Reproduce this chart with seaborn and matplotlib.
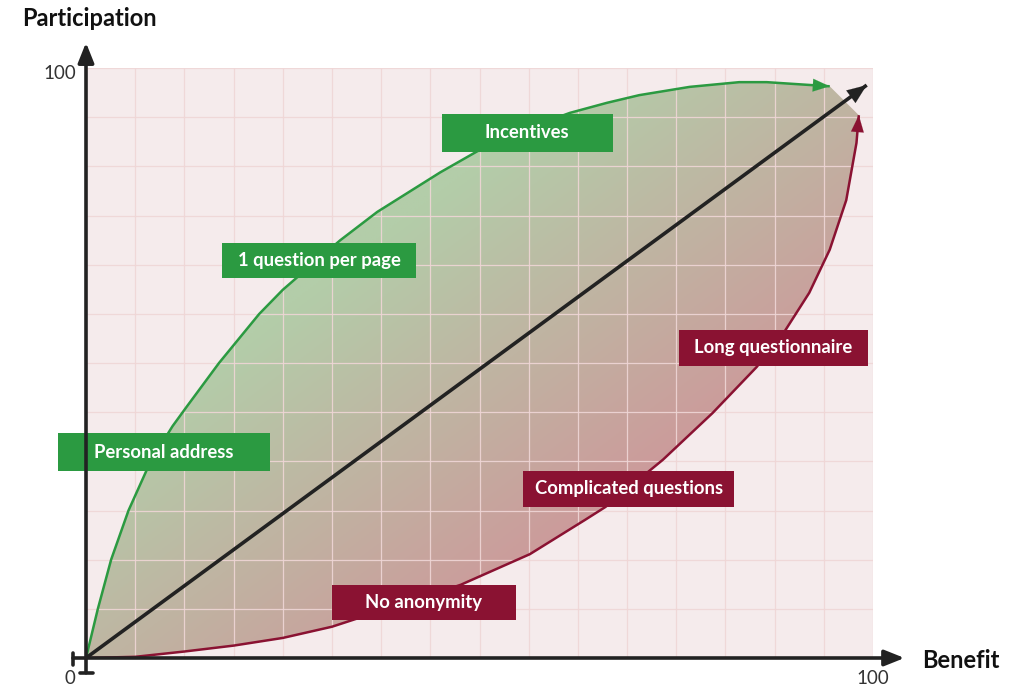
import numpy as np
import pandas as pd
import matplotlib.pyplot as plt
import seaborn as sns
from matplotlib.patches import Polygon, Rectangle
from matplotlib.colors import to_rgb

sns.set_style("white")
plt.rcParams['font.family'] = ['Lato', 'DejaVu Sans']

# Courbes (Benefit, Participation)
green_x = [0, 1.5, 3.2, 5.4, 8.2, 11.0, 12.8, 16.9, 22.0, 25.0, 26.9, 32.3, 37.0, 45.0, 50.0,
           55.1, 61.5, 66.2, 70.3, 76.7, 83.0, 86.5, 94.5]
green_y = [0, 8.3, 16.7, 25.0, 33.3, 39.3, 42.6, 50.0, 58.3, 62.4, 64.6, 70.8, 75.6, 82.3, 86.1,
           89.3, 92.4, 94.1, 95.4, 96.8, 97.6, 97.6, 96.9]

red_x = [0, 6.25, 12.5, 18.75, 25.0, 31.25, 47.6, 56.4, 63.4, 66.0, 73.3, 79.6, 85.2, 88.6,
         91.9, 94.5, 96.6, 97.9, 98.2]
red_y = [0, 0.2, 1.1, 2.1, 3.4, 5.3, 12.4, 17.6, 23.4, 25.6, 33.6, 41.5, 49.3, 55.0,
         61.9, 69.2, 77.6, 87.3, 92.0]

diag_x = [0, 99.2]
diag_y = [0, 97.1]

# Etiquettes
green_labels = ["Incentives", "1 question per page", "Personal address"]
red_labels = ["Long questionnaire", "Complicated questions", "No anonymity"]

# position des boites (x0, x1, y0, y1) en unites du graphique
green_boxes = [(45.2, 66.9, 85.8, 92.2), (17.3, 41.9, 64.4, 70.3), (-3.56, 23.4, 31.7, 38.1)]
red_boxes = [(75.3, 99.4, 49.5, 55.6), (55.5, 82.4, 25.6, 31.7), (31.2, 54.6, 6.4, 12.4)]

GREEN = '#2b9a41'
RED = '#8a1232'
DARK = '#222222'

fig = plt.figure(figsize=(10.24, 7), dpi=100)
ax = fig.add_axes([86 / 1024, 42 / 700, 787 / 1024, 590 / 700])
ax.set_xlim(0, 100)
ax.set_ylim(0, 100)
ax.set_facecolor('#f5ebec')
for s in ax.spines.values():
    s.set_visible(False)
ax.set_xticks(np.linspace(0, 100, 17))
ax.set_yticks(np.linspace(0, 100, 13))
ax.tick_params(length=0, labelbottom=False, labelleft=False)
ax.set_axisbelow(False)
ax.grid(True, color='#efd6d6', lw=0.9, alpha=0.9)

# zone entre les deux courbes, degrade vert -> rouge
poly_pts = list(zip(green_x, green_y)) + list(zip(red_x[::-1], red_y[::-1]))
poly = Polygon(poly_pts, closed=True, facecolor='none', edgecolor='none')
ax.add_patch(poly)
gx, gy = np.meshgrid(np.linspace(0, 100, 300), np.linspace(0, 100, 300))
t = (gx - gy + 100) / 200
s = np.clip((t - 0.33) / 0.37, 0, 1)[..., None]
c0 = np.array(to_rgb('#b3cda9'))
c1 = np.array(to_rgb('#cc9b9b'))
img = c0 * (1 - s) + c1 * s
im = ax.imshow(img, extent=[0, 100, 0, 100], origin='lower', aspect='auto', zorder=1)
im.set_clip_path(poly)

# courbes
df_g = pd.DataFrame({'x': green_x, 'y': green_y})
df_r = pd.DataFrame({'x': red_x, 'y': red_y})
df_d = pd.DataFrame({'x': diag_x, 'y': diag_y})
sns.lineplot(data=df_g, x='x', y='y', sort=False, color=GREEN, lw=1.8, ax=ax, zorder=3, solid_capstyle='butt')
sns.lineplot(data=df_r, x='x', y='y', sort=False, color=RED, lw=1.8, ax=ax, zorder=3, solid_capstyle='butt')
sns.lineplot(data=df_d, x='x', y='y', sort=False, color=DARK, lw=2.6, ax=ax, zorder=3, solid_capstyle='butt')
ax.set_xlabel('')
ax.set_ylabel('')


def head(x, y, color, hl=0.6, hw=0.23):
    ax.annotate('', xy=(x[-1], y[-1]), xytext=(x[-2], y[-2]),
                arrowprops=dict(arrowstyle=f'-|>,head_length={hl},head_width={hw}',
                                color=color, lw=0.1, mutation_scale=20,
                                shrinkA=0, shrinkB=0),
                annotation_clip=False, zorder=4)


head(green_x, green_y, GREEN)
head(red_x, red_y, RED)
head(diag_x, diag_y, DARK, 0.7, 0.28)

# axes avec fleches
arrow_axis = dict(arrowstyle='-|>,head_length=0.6,head_width=0.24', color=DARK, lw=2.6,
                  mutation_scale=20, shrinkA=0, shrinkB=0)
ax.annotate('', xy=(104.0, 0), xytext=(-1.65, 0), arrowprops=arrow_axis, annotation_clip=False, zorder=6)
ax.annotate('', xy=(0, 104.3), xytext=(0, -2.5), arrowprops=arrow_axis, annotation_clip=False, zorder=6)
ax.plot([-1.65, -1.65], [-1.2, 0.9], color=DARK, lw=2.6, clip_on=False, zorder=6)
ax.plot([-0.8, 0.9], [-2.5, -2.5], color=DARK, lw=2.6, clip_on=False, zorder=6)

# boites d'etiquettes
for labels, boxes, col in [(green_labels, green_boxes, GREEN), (red_labels, red_boxes, RED)]:
    for lab, (x0, x1, y0, y1) in zip(labels, boxes):
        ax.add_patch(Rectangle((x0, y0), x1 - x0, y1 - y0, facecolor=col, edgecolor='none',
                               zorder=5, clip_on=False))
        ax.text((x0 + x1) / 2, (y0 + y1) / 2, lab, color='white', fontsize=13.3, fontweight='bold',
                ha='center', va='center', zorder=6)

# graduations
ax.text(-2.0, -3.4, '0', fontsize=13.5, color='#333333', ha='center', va='center')
ax.text(100, -3.4, '100', fontsize=13.5, color='#333333', ha='center', va='center')
ax.text(-1.3, 99.0, '100', fontsize=13.5, color='#333333', ha='right', va='center')

fig.text(22 / 1024, 1 - 19 / 700, 'Participation', fontsize=17, fontweight='bold', color='#111111',
         ha='left', va='center')
fig.text(922 / 1024, 1 - 660 / 700, 'Benefit', fontsize=17, fontweight='bold', color='#111111',
         ha='left', va='center')

fig.savefig('out.png', dpi=100)
